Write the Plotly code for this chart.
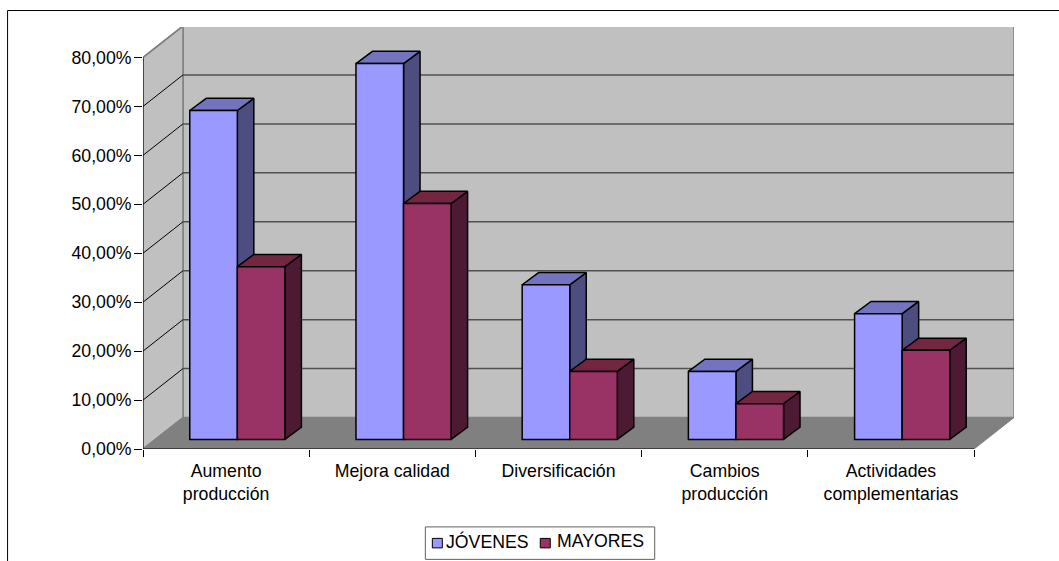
import plotly.graph_objects as go

categories = ["Aumento<br>producción", "Mejora calidad", "Diversificación", "Cambios<br>producción", "Actividades<br>complementarias"]
series_names = ["JÓVENES", "MAYORES"]
jovenes = [67.2, 76.8, 31.6, 13.9, 25.7]
mayores = [35.3, 48.2, 13.9, 7.3, 18.2]
y_ticks = [0, 10, 20, 30, 40, 50, 60, 70, 80]
y_labels = ["0,00%", "10,00%", "20,00%", "30,00%", "40,00%", "50,00%", "60,00%", "70,00%", "80,00%"]

W, H = 1059, 561
L, R, T, B = 143, 1014.5, 27, 449.5      # plot area in pixels
CAT_PX = 166.3
PCT_PX = 4.9
n = len(categories)
x_max = (R - L) / CAT_PX
y_max = (B - T) / PCT_PX
wall_dx = 40.0 / CAT_PX
wall_dy = 31.5 / PCT_PX
bar_w = 47.6 / CAT_PX
bar_dx = 16.5 / CAT_PX
bar_dy = 12.2 / PCT_PX
floor_y = 9.6 / PCT_PX
offs = {"J": 0.4245, "M": 0.7107}
FONT = "Liberation Sans, Arial, sans-serif"
FS = 17.7


def faces(vals, off):
    sx, sy, tx, ty = [], [], [], []
    for i, v in enumerate(vals):
        x0 = i + off - bar_w / 2
        x1 = i + off + bar_w / 2
        top = floor_y + v
        sx += [x1, x1 + bar_dx, x1 + bar_dx, x1, x1, None]
        sy += [floor_y, floor_y + bar_dy, top + bar_dy, top, floor_y, None]
        tx += [x0, x0 + bar_dx, x1 + bar_dx, x1, x0, None]
        ty += [top, top + bar_dy, top + bar_dy, top, top, None]
    return sx, sy, tx, ty


fig = go.Figure()
series = [
    (series_names[0], jovenes, "J", "#9999FF", "#4D4D80", "#7373BF"),
    (series_names[1], mayores, "M", "#993366", "#4D1A33", "#732640"),
]
for name, vals, key, front, side, top in series:
    sx, sy, tx, ty = faces(vals, offs[key])
    for xs, ys, col in ((sx, sy, side), (tx, ty, top)):
        fig.add_trace(go.Scatter(x=xs, y=ys, mode="lines", fill="toself", fillcolor=col,
                                 line=dict(color="#000000", width=1.5), showlegend=False,
                                 hoverinfo="skip", zorder=0))
for name, vals, key, front, side, top in series:
    fig.add_trace(go.Bar(name=name, x=[i + offs[key] for i in range(n)], y=vals, base=floor_y,
                         width=bar_w, marker=dict(color=front, line=dict(color="#000000", width=1.5)),
                         showlegend=False, zorder=1))

shapes = []
def poly(pts, fill, line=None, width=1):
    path = "M" + " L".join(f"{x},{y}" for x, y in pts) + " Z"
    shapes.append(dict(type="path", path=path, xref="x", yref="y", layer="below", fillcolor=fill,
                       line=dict(color=line or "rgba(0,0,0,0)", width=width if line else 0)))
def seg(x0, y0, x1, y1, col, width):
    shapes.append(dict(type="line", xref="x", yref="y", layer="below", x0=x0, y0=y0, x1=x1, y1=y1,
                       line=dict(color=col, width=width)))

poly([(wall_dx, wall_dy), (n + wall_dx, wall_dy), (n + wall_dx, 80 + wall_dy), (wall_dx, 80 + wall_dy)], "#C0C0C0", "#808080", 1.5)
poly([(0, 0), (wall_dx, wall_dy), (wall_dx, 80 + wall_dy), (0, 80)], "#C0C0C0", "#808080", 1.5)
poly([(0, 0), (n, 0), (n + wall_dx, wall_dy), (wall_dx, wall_dy)], "#808080", "#808080", 1)
for t in y_ticks[1:-1]:
    seg(wall_dx, t + wall_dy, n + wall_dx, t + wall_dy, "#505050", 1.5)
    seg(0, t, wall_dx, t + wall_dy, "#000000", 1)
seg(0, 80, wall_dx, 80 + wall_dy, "#808080", 1.5)
seg(wall_dx, 80 + wall_dy, n + wall_dx, 80 + wall_dy, "#505050", 1.5)
seg(0, 0, 0, 80, "#000000", 1)
seg(0, 0, n, 0, "#000000", 1.2)

def px(x): return (x - L) / (R - L)
def py(y): return (B - y) / (B - T)

# outer chart frame (its right and bottom edges fall outside the page)
shapes.append(dict(type="rect", xref="paper", yref="paper", x0=px(7.5), x1=px(W + 5), y0=py(10.5), y1=py(H + 5),
                   line=dict(color="#000000", width=1), layer="below"))

# legend: box, swatches, labels
shapes.append(dict(type="rect", xref="paper", yref="paper", x0=px(425.5), x1=px(655), y0=py(527.5), y1=py(560),
                   fillcolor="#FFFFFF", line=dict(color="#606060", width=1)))
annotations = []
for (name, vals, key, front, side, top), sw, tx in zip(series, (432.5, 540.5), (445.5, 556)):
    shapes.append(dict(type="rect", xref="paper", yref="paper", x0=px(sw), x1=px(sw + 10), y0=py(539), y1=py(548.5),
                       fillcolor=front, line=dict(color="#000000", width=1)))
    annotations.append(dict(xref="paper", yref="paper", x=px(tx), y=py(542), xanchor="left", yanchor="middle",
                            text=name, showarrow=False, xshift=0, borderpad=0,
                            font=dict(family=FONT, size=FS, color="#000000")))

fig.update_layout(
    width=W, height=H, autosize=False,
    margin=dict(l=L, r=W - R, t=T, b=H - B, pad=0, autoexpand=False),
    paper_bgcolor="#FFFFFF", plot_bgcolor="#FFFFFF",
    font=dict(family=FONT, size=FS, color="#000000"),
    barmode="overlay", shapes=shapes, annotations=annotations, showlegend=False,
    xaxis=dict(range=[0, x_max], tickmode="array", tickvals=[i + 0.5 for i in range(n)], ticktext=categories,
               ticks="outside", ticklen=6, tickcolor="rgba(0,0,0,0)", showgrid=False, zeroline=False, showline=False,
               minor=dict(tickmode="array", tickvals=list(range(n + 1)), ticks="outside", ticklen=7,
                          tickcolor="#000000", tickwidth=1, showgrid=False),
               tickfont=dict(family=FONT, size=FS)),
    yaxis=dict(range=[0, y_max], tickmode="array", tickvals=y_ticks, ticktext=y_labels, ticks="outside",
               ticklen=8, tickcolor="#000000", tickwidth=1, showgrid=False, zeroline=False, showline=False,
               ticklabelstandoff=-1, tickfont=dict(family=FONT, size=FS)),
)
fig.write_html("out.html", config={"displayModeBar": False},
               post_script="document.body.style.margin='0';document.body.style.overflow='hidden';")
